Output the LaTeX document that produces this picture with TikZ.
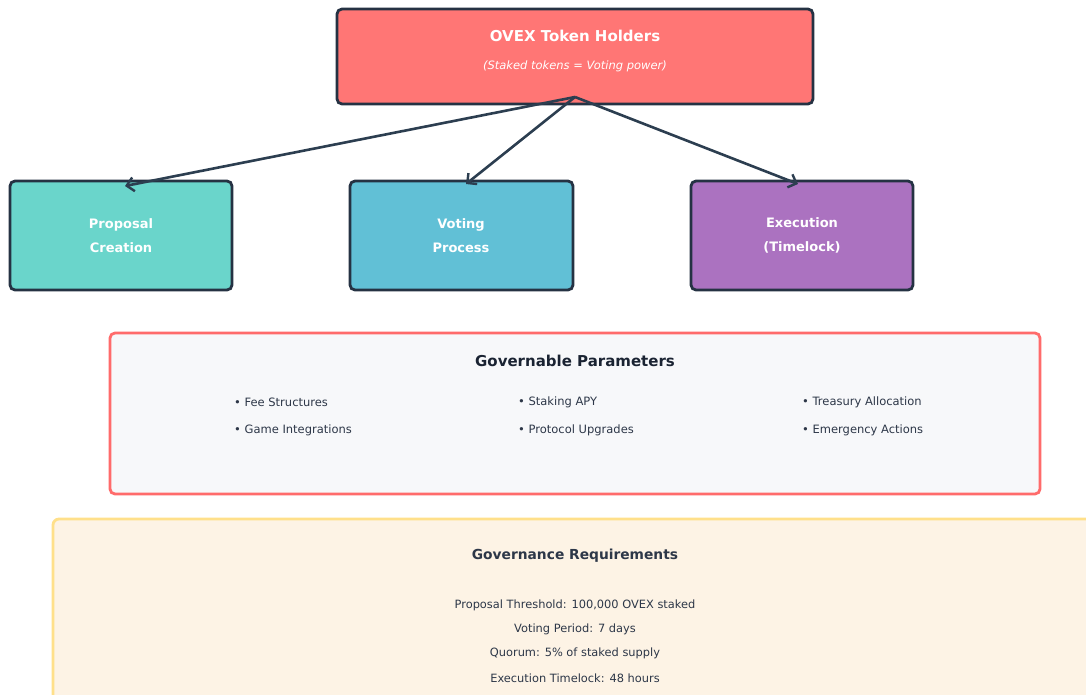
\documentclass[tikz,border=0pt]{standalone}
\usepackage{fontspec}
\setmainfont{DejaVu Sans}
\usetikzlibrary{arrows.meta}
\definecolor{topfill}{HTML}{FF7675}
\definecolor{dark}{HTML}{253243}
\definecolor{arrowc}{HTML}{2C3E50}
\definecolor{propfill}{HTML}{6AD5CB}
\definecolor{votefill}{HTML}{61C0D6}
\definecolor{execfill}{HTML}{AB72C0}
\definecolor{gpfill}{HTML}{F7F8FA}
\definecolor{gpborder}{HTML}{FF6B6B}
\definecolor{grfill}{HTML}{FDF3E5}
\definecolor{grborder}{HTML}{FFE08A}
\definecolor{txt}{HTML}{2D3748}
\definecolor{titletxt}{HTML}{1A2332}
\tikzset{
  x=1pt,y=-1pt,
  box/.style={draw=dark,line width=2.8pt,rounded corners=5pt},
  wtitle/.style={text=white,font=\bfseries\fontsize{13}{16}\selectfont,align=center},
  item/.style={text=txt,font=\fontsize{11.5}{13}\selectfont,anchor=west,inner sep=0pt},
  req/.style={text=txt,font=\fontsize{11.4}{13}\selectfont,inner sep=0pt},
  conn/.style={draw=arrowc,line width=2.6pt,-{Straight Barb[length=7pt,width=14pt,line width=2.4pt]}}
}
\begin{document}
\begin{tikzpicture}
\useasboundingbox[fill=white] (0,0) rectangle (1086,694);
% top
\draw[box,fill=topfill] (337,9) rectangle (813,104);
\node[text=white,font=\bfseries\fontsize{15}{18}\selectfont] (top) at (575,36) {OVEX Token Holders};
\node[text=white,font=\itshape\fontsize{11.5}{13}\selectfont] (topsub) at (575,66) {(Staked tokens = Voting power)};
\coordinate (src) at (575,97);
% row boxes
\draw[box,fill=propfill] (10,181) rectangle (232,290);
\draw[box,fill=votefill] (350,181) rectangle (573,290);
\draw[box,fill=execfill] (691,181) rectangle (913,290);
\node[wtitle] (prop) at (121,235.5) {Proposal\\[8pt]Creation};
\node[wtitle] (vote) at (461,235.5) {Voting\\[8pt]Process};
\node[wtitle] (exec) at (802,235.5) {Execution\\[8pt](Timelock)};
\coordinate (pa) at (125,186);
\coordinate (va) at (466,184);
\coordinate (ea) at (798,184);
\draw[conn] (src) -- (pa);
\draw[conn] (src) -- (va);
\draw[conn] (src) -- (ea);
% governable parameters
\draw[draw=gpborder,line width=2.8pt,rounded corners=5pt,fill=gpfill] (110,333) rectangle (1040,494);
\node[text=titletxt,font=\bfseries\fontsize{15}{18}\selectfont] (gp) at (575,360.5) {Governable Parameters};
\node[item] (i1) at (234,402.5) {• Fee Structures};
\node[item] (i2) at (234,430.5) {• Game Integrations};
\node[item] (i3) at (518,402.5) {• Staking APY};
\node[item] (i4) at (518,430.5) {• Protocol Upgrades};
\node[item] (i5) at (802,402.5) {• Treasury Allocation};
\node[item] (i6) at (802,430.5) {• Emergency Actions};
% requirements
\draw[draw=grborder,line width=2.8pt,rounded corners=6pt,fill=grfill] (53,519) rectangle (1100,710);
\node[text=txt,font=\bfseries\fontsize{13.8}{16}\selectfont] (gr) at (575,555.5) {Governance Requirements};
\node[req] (r1) at (575,605) {Proposal Threshold: 100,000 OVEX staked};
\node[req] (r2) at (575,629) {Voting Period: 7 days};
\node[req] (r3) at (575,653) {Quorum: 5\% of staked supply};
\node[req] (r4) at (575,678) {Execution Timelock: 48 hours};
\end{tikzpicture}
\end{document}
